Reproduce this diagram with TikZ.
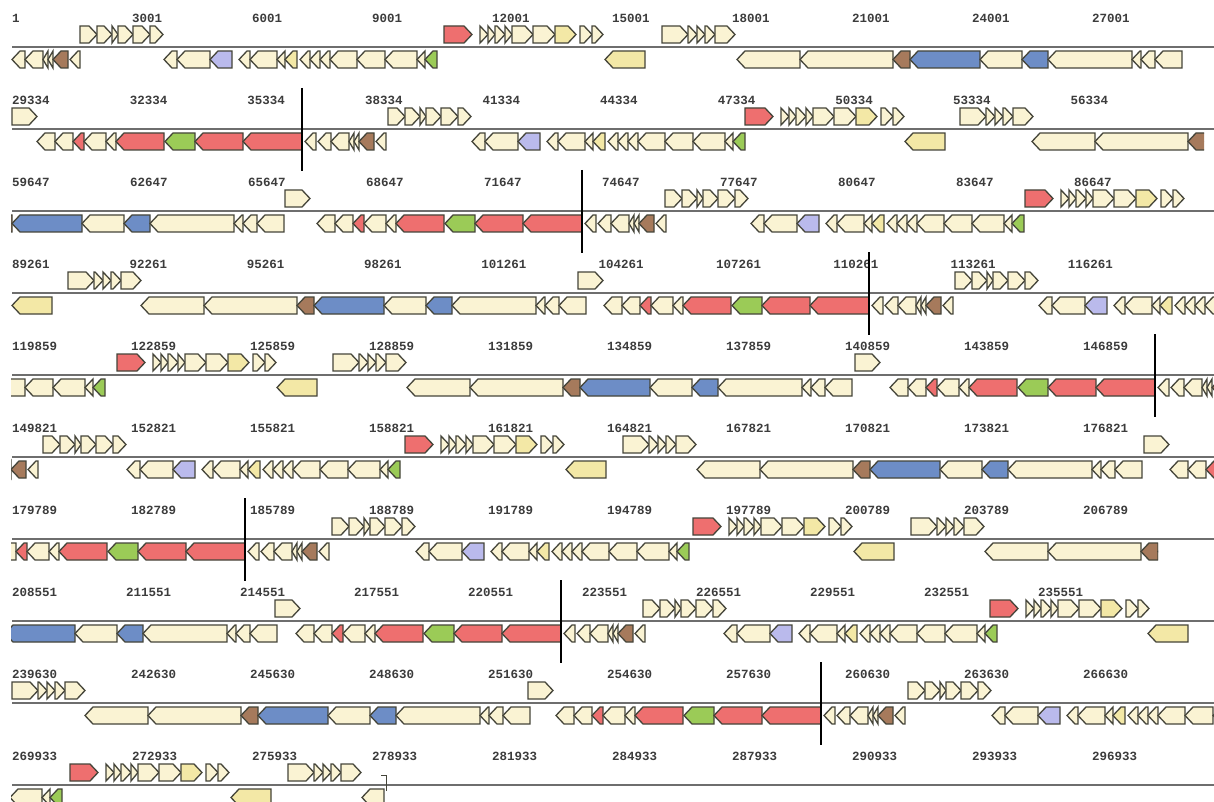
\documentclass[tikz,border=0pt]{standalone}
\usepackage{fontspec}
\newfontfamily\labelfont{Liberation Mono}
\definecolor{cream}{HTML}{FAF3D3}
\definecolor{straw}{HTML}{F3E8A6}
\definecolor{salmon}{HTML}{EE6F6F}
\definecolor{leaf}{HTML}{9BCB57}
\definecolor{steel}{HTML}{6D8DC6}
\definecolor{lilac}{HTML}{BABAEC}
\definecolor{umber}{HTML}{A67A5C}
\definecolor{genedge}{HTML}{45453A}
\definecolor{rowgray}{HTML}{6E6E6E}
\definecolor{labelgray}{HTML}{3C3C3C}

\tikzset{
  gene/.style={draw=genedge,line width=1.3pt,line join=miter},
  rowline/.style={draw=rowgray,line width=1.8pt},
  cutline/.style={draw=black,line width=2.8pt},
  poslabel/.style={font=\labelfont\bfseries\fontsize{12.5}{14}\selectfont,text=labelgray,anchor=west,inner sep=0pt}
}

% one gene: from, to, colour (forward above the line, reverse below)
\newcommand{\fgene}[3]{%
  \pgfmathsetmacro\hl{min(8,(#2)-(#1))}%
  \filldraw[gene,fill=#3] (#1,-21) -- ({#2-\hl},-21) -- (#2,-12.5) -- ({#2-\hl},-4) -- (#1,-4) -- cycle;}
\newcommand{\rgene}[3]{%
  \pgfmathsetmacro\hl{min(8,(#2)-(#1))}%
  \filldraw[gene,fill=#3] (#2,4) -- ({#1+\hl},4) -- (#1,12.5) -- ({#1+\hl},21) -- (#2,21) -- cycle;}

% gene clusters of the repeat
\newcommand{\redrev}[1]{\begin{scope}[shift={(#1,0)}]
  \foreach \a/\b/\c in {-265/-247/cream,-247/-229/cream,-229/-218/salmon,-218/-196/cream,-196/-186/cream,
    -186/-138/salmon,-137/-107/leaf,-107/-59/salmon,-59/0/salmon,3/14/cream,16/29/cream,29/47/cream,
    47/52/cream,52/57/cream,57/72/umber,74/84/cream}
    {\rgene{\a}{\b}{\c}}
\end{scope}}
\newcommand{\lilacrev}[1]{\begin{scope}[shift={(#1,0)}]
  \foreach \a/\b/\c in {0/13/cream,13/46/cream,46/68/lilac,75/86/cream,86/113/cream,113/121/cream,
    121/133/straw,136/146/cream,146/156/cream,156/166/cream,166/193/cream,193/221/cream,221/253/cream,
    253/261/cream,261/273/leaf}
    {\rgene{\a}{\b}{\c}}
\end{scope}}
\newcommand{\bluerev}[1]{\begin{scope}[shift={(#1,0)}]
  \foreach \a/\b/\c in {0/63/cream,63/156/cream,156/173/umber,173/243/steel,243/285/cream,285/311/steel,
    311/395/cream,395/404/cream,404/418/cream,418/445/cream}
    {\rgene{\a}{\b}{\c}}
\end{scope}}
\newcommand{\singlerev}[1]{\begin{scope}[shift={(#1,0)}]\rgene{0}{40}{straw}\end{scope}}
\newcommand{\redfwd}[1]{\begin{scope}[shift={(#1,0)}]
  \foreach \a/\b/\c in {0/28/salmon,36/44/cream,44/51/cream,51/61/cream,61/68/cream,68/89/cream,
    89/111/cream,111/132/straw,136/148/cream,148/159/cream}
    {\fgene{\a}{\b}{\c}}
\end{scope}}
\newcommand{\fourfwd}[1]{\begin{scope}[shift={(#1,0)}]
  \foreach \a/\b in {0/26,26/35,35/43,43/53,53/73} {\fgene{\a}{\b}{cream}}
\end{scope}}
\newcommand{\sixfwd}[1]{\begin{scope}[shift={(#1,0)}]
  \foreach \a/\b in {0/17,17/32,32/38,38/53,53/70,70/83} {\fgene{\a}{\b}{cream}}
\end{scope}}
\newcommand{\singlefwd}[1]{\begin{scope}[shift={(#1,0)}]\fgene{0}{25}{cream}\end{scope}}

% position labels of a row: row, first position, spacing in px
\newcommand{\rowlabels}[3]{%
  \foreach \k in {0,...,9}
    {\node[poslabel] (tick-#1-\k) at ({12+#3*\k},-29) {\the\numexpr#2+3000*\k\relax};}
  \draw[rowline] (12,0) -- (1214,0);}

\begin{document}
\begin{tikzpicture}[x=1pt,y=-1pt]
\useasboundingbox[fill=white] (0,0) rectangle (1214,802);

% row 1
\begin{scope}[shift={(0,47)}]
  \rowlabels{1}{1}{120}
  \begin{scope}
    \clip (11,-30) rectangle (1187,30);
    \redrev{-4} \sixfwd{80} \lilacrev{164} \redfwd{444} \singlerev{605} \fourfwd{662} \bluerev{737}
  \end{scope}
\end{scope}

% row 2
\begin{scope}[shift={(0,129)}]
  \rowlabels{2}{29334}{117.6}
  \begin{scope}
    \clip (11,-30) rectangle (1204,30);
    \singlefwd{12} \redrev{302} \sixfwd{388} \lilacrev{472} \redfwd{745} \singlerev{905} \fourfwd{960} \bluerev{1032}
  \end{scope}
  \draw[cutline] (302,-41) -- (302,42);
\end{scope}

% row 3
\begin{scope}[shift={(0,211)}]
  \rowlabels{3}{59647}{118}
  \begin{scope}
    \clip (11,-30) rectangle (1190,30);
    \bluerev{-161} \singlefwd{285} \redrev{582} \sixfwd{665} \lilacrev{751} \redfwd{1025}
  \end{scope}
  \draw[cutline] (582,-41) -- (582,42);
\end{scope}

% row 4
\begin{scope}[shift={(0,293)}]
  \rowlabels{4}{89261}{117.3}
  \begin{scope}
    \clip (11,-30) rectangle (1214,30);
    \singlerev{12} \fourfwd{68} \bluerev{141} \singlefwd{578} \redrev{869} \sixfwd{955} \lilacrev{1039}
  \end{scope}
  \draw[cutline] (869,-41) -- (869,42);
\end{scope}

% row 5
\begin{scope}[shift={(0,375)}]
  \rowlabels{5}{119859}{119}
  \begin{scope}
    \clip (11,-30) rectangle (1214,30);
    \lilacrev{-168} \redfwd{117} \singlerev{277} \fourfwd{333} \bluerev{407} \singlefwd{855} \redrev{1155}
  \end{scope}
  \draw[cutline] (1155,-41) -- (1155,42);
\end{scope}

% row 6
\begin{scope}[shift={(0,457)}]
  \rowlabels{6}{149821}{119}
  \begin{scope}
    \clip (11,-30) rectangle (1214,30);
    \redrev{-46} \sixfwd{43} \lilacrev{127} \redfwd{405} \singlerev{566} \fourfwd{623} \bluerev{697}
    \singlefwd{1144} \redrev{1435}
  \end{scope}
\end{scope}

% row 7
\begin{scope}[shift={(0,539)}]
  \rowlabels{7}{179789}{119}
  \begin{scope}
    \clip (11,-30) rectangle (1158,30);
    \redrev{245} \sixfwd{332} \lilacrev{416} \redfwd{693} \singlerev{854} \fourfwd{911} \bluerev{985}
  \end{scope}
  \draw[cutline] (245,-41) -- (245,42);
\end{scope}

% row 8
\begin{scope}[shift={(0,621)}]
  \rowlabels{8}{208551}{114}
  \begin{scope}
    \clip (11,-30) rectangle (1214,30);
    \bluerev{-168} \singlefwd{275} \redrev{561} \sixfwd{643} \lilacrev{724} \redfwd{990} \singlerev{1148}
  \end{scope}
  \draw[cutline] (561,-41) -- (561,42);
\end{scope}

% row 9
\begin{scope}[shift={(0,703)}]
  \rowlabels{9}{239630}{119}
  \begin{scope}
    \clip (11,-30) rectangle (1214,30);
    \fourfwd{12} \bluerev{85} \singlefwd{528} \redrev{821} \sixfwd{908} \lilacrev{992}
  \end{scope}
  \draw[cutline] (821,-41) -- (821,42);
\end{scope}

% row 10, end of the sequence
\begin{scope}[shift={(0,785)}]
  \rowlabels{10}{269933}{120}
  \begin{scope}
    \clip (11,-30) rectangle (1214,30);
    \lilacrev{-211} \redfwd{70} \singlerev{231} \fourfwd{288}
    \rgene{362}{384}{cream}
  \end{scope}
  \draw[genedge,line width=1pt] (381,-10) -- (386,-10) -- (386,6);
\end{scope}
\end{tikzpicture}
\end{document}
